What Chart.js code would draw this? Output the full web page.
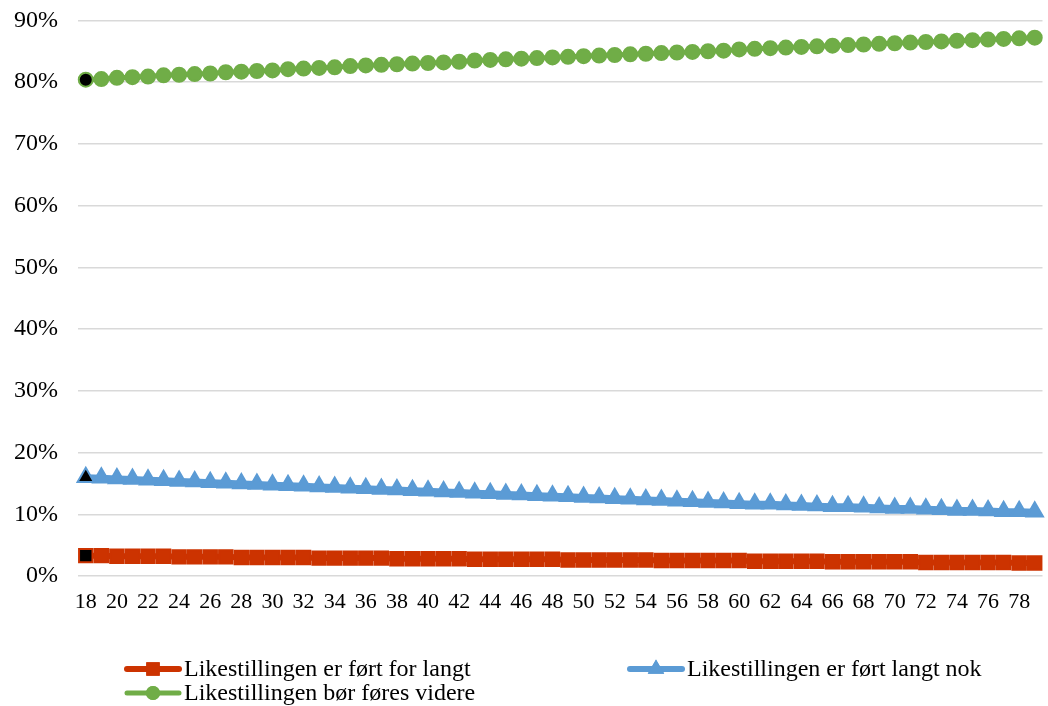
<!DOCTYPE html>
<html>
<head>
<meta charset="utf-8">
<script src="https://cdn.jsdelivr.net/npm/chart.js@4/dist/chart.umd.min.js"></script>
<style>
  html, body { margin: 0; padding: 0; background: #fff; overflow: hidden; }
  #wrap { position: relative; width: 1048px; height: 706px; overflow: hidden; }
  #chart { position: absolute; left: 0; top: -14px; }
  .legend { position: absolute; font-family: "Liberation Serif", "Times New Roman", serif; font-size: 24px; color: #000; }
  .item { position: absolute; white-space: nowrap; display: flex; align-items: center; }
  .item canvas { margin-right: 1px; }
</style>
</head>
<body>
<div id="wrap">
  <canvas id="chart" width="1054" height="720"></canvas>
  <div class="legend" id="legend"></div>
</div>
<script>
const ages = [];
for (let a = 18; a <= 79; a++) ages.push(a);

const forLangt = [3.3, 3.3, 3.2, 3.2, 3.2, 3.2, 3.1, 3.1, 3.1, 3.1, 3.0, 3.0, 3.0, 3.0, 3.0, 2.9,
  2.9, 2.9, 2.9, 2.9, 2.8, 2.8, 2.8, 2.8, 2.8, 2.7, 2.7, 2.7, 2.7, 2.7, 2.7, 2.6,
  2.6, 2.6, 2.6, 2.6, 2.6, 2.5, 2.5, 2.5, 2.5, 2.5, 2.5, 2.4, 2.4, 2.4, 2.4, 2.4,
  2.3, 2.3, 2.3, 2.3, 2.3, 2.3, 2.2, 2.2, 2.2, 2.2, 2.2, 2.2, 2.1, 2.1];

const langtNok = [16.0, 15.9, 15.8, 15.7, 15.6, 15.5, 15.4, 15.3, 15.2, 15.1, 15.0, 14.9, 14.8, 14.7,
  14.6, 14.5, 14.4, 14.3, 14.2, 14.1, 14.0, 13.9, 13.8, 13.7, 13.6, 13.5, 13.4, 13.3,
  13.2, 13.1, 13.0, 12.9, 12.8, 12.7, 12.6, 12.5, 12.4, 12.3, 12.2, 12.1, 12.0, 11.9,
  11.8, 11.7, 11.7, 11.6, 11.5, 11.4, 11.3, 11.3, 11.2, 11.1, 11.0, 11.0, 10.9, 10.8,
  10.7, 10.7, 10.6, 10.5, 10.5, 10.4];

const videre = [80.4, 80.5, 80.7, 80.8, 80.9, 81.1, 81.2, 81.3, 81.4, 81.6, 81.7, 81.8, 81.9, 82.1,
  82.2, 82.3, 82.4, 82.6, 82.7, 82.8, 82.9, 83.0, 83.1, 83.2, 83.3, 83.5, 83.6, 83.7,
  83.8, 83.9, 84.0, 84.1, 84.2, 84.3, 84.4, 84.5, 84.6, 84.7, 84.8, 84.9, 85.0, 85.1,
  85.3, 85.4, 85.5, 85.6, 85.7, 85.8, 85.9, 86.0, 86.1, 86.2, 86.3, 86.4, 86.5, 86.6,
  86.7, 86.8, 86.9, 87.0, 87.1, 87.2];

const seriesNames = [
  "Likestillingen er ført for langt",
  "Likestillingen er ført langt nok",
  "Likestillingen bør føres videre"
];
const colors = ["#CC3300", "#5B9BD5", "#70AD47"];
const yTicks = [0, 10, 20, 30, 40, 50, 60, 70, 80, 90];

const font = "'Liberation Serif', 'Times New Roman', serif";

function firstBlack(color) {
  return (ctx) => ctx.dataIndex === 0 ? "#000" : color;
}

const datasets = [
  {
    label: seriesNames[0],
    data: forLangt,
    borderColor: colors[0],
    backgroundColor: colors[0],
    pointBackgroundColor: firstBlack(colors[0]),
    pointBorderColor: colors[0],
    pointBorderWidth: 2,
    borderWidth: 6,
    pointStyle: "rect",
    pointRadius: 9.5,
  },
  {
    label: seriesNames[1],
    data: langtNok,
    borderColor: colors[1],
    backgroundColor: colors[1],
    pointBackgroundColor: firstBlack(colors[1]),
    pointBorderColor: colors[1],
    pointBorderWidth: 2,
    borderWidth: 6,
    pointStyle: "triangle",
    pointRadius: 9.5,
  },
  {
    label: seriesNames[2],
    data: videre,
    borderColor: colors[2],
    backgroundColor: colors[2],
    pointBackgroundColor: firstBlack(colors[2]),
    pointBorderColor: colors[2],
    pointBorderWidth: 2,
    borderWidth: 5,
    pointStyle: "circle",
    pointRadius: 7,
  },
];

new Chart(document.getElementById("chart"), {
  type: "line",
  data: { labels: ages, datasets: datasets },
  options: {
    responsive: false,
    animation: false,
    layout: { padding: { left: 0, top: 0, right: 0, bottom: 90 } },
    plugins: { legend: { display: false }, tooltip: { enabled: false } },
    scales: {
      x: {
        offset: true,
        grid: { display: false, drawTicks: false },
        border: { display: false },
        afterFit: (axis) => { axis.height = 40; },
        ticks: {
          autoSkip: false,
          maxRotation: 0,
          padding: 13,
          color: "#000",
          font: { family: font, size: 22 },
          callback: function (v, i) {
            const a = ages[i];
            return a % 2 === 0 ? String(a) : "";
          },
        },
      },
      y: {
        min: 0,
        max: 90,
        afterBuildTicks: (axis) => { axis.ticks = yTicks.map((v) => ({ value: v })); },
        afterFit: (axis) => { axis.width = 78; },
        grid: { color: "#d9d9d9", lineWidth: 1.5, drawTicks: false },
        border: { display: false },
        ticks: {
          padding: 20,
          color: "#000",
          font: { family: font, size: 24 },
          callback: (v) => v + "%",
        },
      },
    },
  },
});

// legend, laid out in two columns like the original
const legendPos = [
  { left: 123, top: 655 },
  { left: 626, top: 655 },
  { left: 123, top: 679 },
];
const legendEl = document.getElementById("legend");
datasets.forEach((ds, i) => {
  const item = document.createElement("div");
  item.className = "item";
  item.style.left = legendPos[i].left + "px";
  item.style.top = legendPos[i].top + "px";
  const c = document.createElement("canvas");
  c.width = 60; c.height = 24;
  const g = c.getContext("2d");
  g.strokeStyle = ds.borderColor;
  g.lineWidth = ds.borderWidth;
  g.lineCap = "round";
  g.beginPath(); g.moveTo(4, 12); g.lineTo(56, 12); g.stroke();
  g.fillStyle = ds.borderColor;
  Chart.helpers.drawPoint(g, { pointStyle: ds.pointStyle, radius: ds.pointRadius, rotation: 0, borderWidth: 0 }, 30, 12);
  g.fill();
  item.appendChild(c);
  const t = document.createElement("span");
  t.textContent = ds.label;
  item.appendChild(t);
  legendEl.appendChild(item);
});
</script>
</body>
</html>
